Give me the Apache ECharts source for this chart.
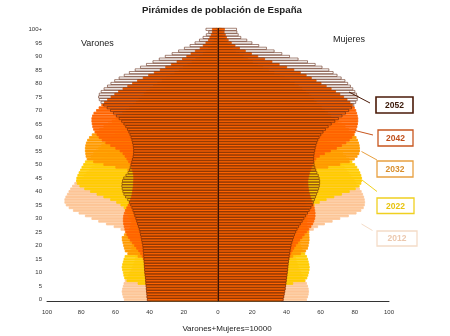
<!DOCTYPE html>
<html>
<head>
<meta charset="utf-8">
<script src="https://cdn.jsdelivr.net/npm/echarts@6/dist/echarts.min.js"></script>
<style>
html,body{margin:0;padding:0;background:#fff;}
#chart{width:450px;height:336px;}
</style>
</head>
<body>
<div id="chart"></div>
<script>
// Age categories 0..99 and 100+
const ages = [];
for (let i = 0; i < 100; i++) ages.push(String(i));
ages.push('100+');

const years = ['2012', '2022', '2032', '2042', '2052'];

// Varones (men), per 10000 inhabitants, ages 0..100+
const m2012 = [55.0,55.6,56.0,56.3,56.0,55.6,55.2,54.5,53.5,52.6,
  51.8,51.0,50.2,49.6,49.0,48.6,48.4,48.5,49.0,49.8,
  50.6,51.4,52.2,53.0,54.0,54.5,57.0,61.0,65.5,70.0,
  74.0,77.8,81.5,84.8,87.3,89.0,89.8,89.8,89.2,88.3,
  87.4,86.4,85.3,84.0,82.6,80.0,78.5,77.0,75.5,74.0,
  72.3,70.5,68.6,66.6,64.6,62.6,60.6,58.7,57.0,55.6,
  54.4,53.4,52.5,51.8,51.0,50.0,48.5,46.5,44.0,41.5,
  39.5,38.0,37.0,36.3,35.6,34.6,33.4,32.0,30.3,28.5,
  26.6,24.6,22.5,20.3,18.0,15.7,13.5,11.4,9.5,7.8,
  6.2,4.9,3.8,2.9,2.2,1.6,1.1,0.8,0.5,0.35,
  0.6];
const m2022 = [40.0,40.5,41.0,41.5,41.8,42.0,47.0,53.5,54.8,55.3,
  55.6,56.0,56.3,56.0,55.6,55.2,54.6,52.5,51.6,50.8,
  50.2,49.6,49.0,48.6,48.5,48.6,49.0,49.6,50.4,51.2,
  52.0,52.8,53.6,54.3,55.2,57.0,59.5,63.0,67.0,71.0,
  74.8,78.2,81.0,82.6,83.0,82.8,82.2,81.5,80.6,79.8,
  78.8,77.8,76.0,74.5,73.0,71.6,70.0,68.3,66.4,64.4,
  62.4,60.4,58.5,56.8,55.2,53.8,52.6,51.5,50.4,49.2,
  47.8,46.2,44.3,42.0,39.5,37.0,35.0,33.2,31.6,30.0,
  28.4,26.6,24.6,22.5,20.2,17.9,15.6,13.4,11.3,9.4,
  7.6,6.0,4.7,3.6,2.7,2.0,1.4,1.0,0.7,0.5,
  0.9];
const m2032 = [39.5,39.8,40.0,40.3,40.6,40.9,41.2,41.5,41.8,42.0,
  42.2,42.3,42.4,42.5,42.6,43.5,47.0,53.0,54.5,55.0,
  55.4,55.8,56.2,56.3,55.0,53.0,52.0,51.5,51.0,50.6,
  50.3,50.0,49.7,49.4,49.2,49.0,48.8,48.6,48.4,48.2,
  48.0,47.8,47.5,47.2,47.0,47.2,48.0,50.0,53.0,60.0,
  67.0,73.0,76.8,77.4,77.6,77.8,77.8,77.6,77.2,76.5,
  75.4,73.8,71.8,69.5,67.0,64.5,62.2,60.0,58.0,56.0,
  54.0,52.0,50.0,48.0,46.5,45.0,43.5,42.0,40.0,38.0,
  35.5,33.0,30.5,28.0,25.5,23.0,20.5,18.0,15.5,13.2,
  11.0,9.0,7.3,5.8,4.5,3.5,2.6,1.9,1.4,1.0,
  1.5];
const m2042 = [41.5,41.7,41.8,42.0,42.1,42.2,42.4,42.5,42.6,42.8,
  43.0,43.1,43.2,43.3,43.4,43.9,44.6,45.5,46.6,47.8,
  49.0,50.3,51.5,52.6,53.5,54.2,54.7,55.1,55.4,55.6,
  55.6,55.4,55.0,54.4,53.6,52.8,52.0,51.4,50.9,50.5,
  50.2,50.0,49.8,49.7,49.6,49.5,49.6,49.8,50.2,50.8,
  51.5,52.5,53.5,54.6,55.8,57.5,60.0,63.0,65.8,68.0,
  69.8,71.0,72.2,73.0,73.5,73.8,74.0,74.0,73.6,72.8,
  71.3,69.8,68.2,66.6,64.8,62.8,60.6,58.4,55.8,53.0,
  50.2,47.3,44.0,40.8,37.5,34.0,30.8,27.5,24.2,21.0,
  18.5,16.0,13.5,10.7,8.9,7.3,5.8,5.0,4.2,3.5,
  3.5];
const m2052 = [41.5,41.7,41.8,42.0,42.1,42.2,42.4,42.5,42.6,42.8,
  43.0,43.1,43.2,43.3,43.4,43.5,43.6,43.7,43.9,44.0,
  44.2,44.5,44.8,45.1,45.5,45.8,46.2,46.7,47.2,47.7,
  48.2,48.8,49.3,49.9,50.5,51.2,52.0,53.0,54.2,55.2,
  55.8,56.2,56.4,56.3,56.0,55.3,54.0,52.8,52.0,51.5,
  51.0,50.6,50.2,49.8,49.6,49.5,49.6,49.8,50.1,50.5,
  51.0,51.6,52.3,53.1,54.1,55.2,56.5,58.0,59.6,61.3,
  63.0,65.0,67.0,68.6,69.6,70.0,69.6,68.5,66.8,64.8,
  62.8,60.6,58.0,55.0,52.0,48.6,45.5,42.0,38.2,34.5,
  31.0,27.0,23.2,19.8,16.5,13.6,11.0,8.9,7.0,5.6,
  7.2];

// Mujeres (women), per 10000 inhabitants, ages 0..100+
const f2012 = [52.0,52.6,53.0,53.2,53.0,52.6,52.0,51.2,50.3,49.5,
  48.7,48.0,47.3,46.7,46.2,45.8,45.6,45.7,46.1,46.7,
  47.4,48.2,49.0,50.0,51.3,53.5,56.0,58.5,62.5,67.0,
  71.5,76.5,81.0,83.8,85.2,85.8,86.0,85.8,85.4,84.8,
  84.0,83.0,82.0,81.0,80.0,79.0,77.8,76.6,75.4,74.0,
  72.6,71.0,69.2,67.3,65.4,63.6,61.8,60.2,58.8,57.6,
  56.6,55.8,55.0,54.4,53.8,53.0,51.8,50.0,47.8,45.6,
  44.0,43.0,42.4,42.0,41.6,41.0,40.2,39.2,38.0,36.6,
  35.0,33.2,31.2,29.0,26.6,24.0,21.4,18.8,16.2,13.8,
  11.5,9.4,7.6,6.0,4.6,3.5,2.6,1.9,1.3,0.9,
  1.6];
const f2022 = [37.0,37.5,38.0,38.5,38.9,39.3,44.0,51.0,52.2,52.8,
  53.2,53.5,53.6,53.4,53.0,52.6,52.0,51.0,50.0,49.2,
  48.6,48.0,47.5,47.2,47.0,47.2,47.6,48.2,49.0,49.8,
  50.6,51.4,52.2,53.2,54.5,56.5,59.5,63.5,68.0,72.5,
  77.0,80.5,82.8,83.8,84.2,84.2,83.8,83.2,82.4,81.4,
  80.2,78.6,76.8,75.0,73.2,71.4,69.6,67.8,66.0,64.2,
  62.6,61.0,59.6,58.3,57.2,56.2,55.4,54.6,53.8,53.0,
  52.0,50.8,49.4,47.6,45.6,43.6,41.8,40.2,38.6,37.0,
  35.4,33.6,31.6,29.4,27.0,24.6,22.0,19.4,16.8,14.3,
  12.0,9.8,7.9,6.2,4.8,3.6,2.7,2.0,1.4,1.0,
  1.8];
const f2032 = [37.0,37.3,37.6,37.9,38.2,38.5,38.8,39.1,39.4,39.7,
  40.0,40.2,40.5,40.8,41.0,41.5,44.0,48.5,51.5,52.6,
  53.0,53.3,53.5,53.5,53.4,53.2,52.8,52.4,52.2,52.3,
  52.4,52.4,52.3,52.1,51.9,51.6,51.3,51.0,50.7,50.5,
  50.3,50.2,50.2,50.3,50.4,50.5,50.8,52.5,57.5,64.5,
  71.5,77.0,80.0,81.6,82.6,83.0,83.0,82.8,82.4,81.8,
  81.0,79.9,78.4,76.6,74.6,72.5,70.3,68.2,66.2,64.3,
  62.5,60.8,59.2,57.7,56.3,54.8,53.2,51.4,49.4,47.2,
  44.8,42.0,39.2,36.2,33.0,29.8,26.5,23.4,20.4,17.6,
  15.0,12.6,10.5,8.6,7.0,5.5,4.4,3.5,2.7,2.0,
  2.5];
const f2042 = [38.3,38.6,38.9,39.2,39.5,39.7,39.9,40.1,40.3,40.5,
  40.7,40.9,41.0,41.2,41.4,41.7,42.2,42.8,43.6,44.6,
  45.6,46.8,48.0,49.3,50.6,52.0,53.4,54.6,55.6,56.3,
  56.8,57.0,57.0,56.8,56.5,56.0,55.4,54.8,54.2,53.8,
  53.4,53.1,52.9,52.8,52.8,53.0,53.4,53.8,54.4,55.0,
  55.6,56.4,57.5,59.5,62.5,66.0,69.5,72.5,75.0,77.0,
  78.5,79.6,80.4,81.0,81.5,81.8,82.0,82.0,81.7,81.3,
  80.8,80.0,78.8,77.4,75.7,73.7,71.5,69.0,66.4,63.5,
  60.5,57.6,54.8,51.8,48.4,44.6,40.4,36.0,31.8,27.5,
  23.5,19.8,16.2,12.8,10.2,8.0,6.2,5.2,4.5,3.8,
  4.0];
const f2052 = [38.3,38.6,38.9,39.2,39.5,39.7,39.9,40.1,40.3,40.5,
  40.7,40.9,41.0,41.2,41.4,41.6,41.8,42.0,42.3,42.6,
  42.9,43.3,43.8,44.3,44.9,45.6,46.4,47.3,48.3,49.4,
  50.4,51.4,52.5,53.5,54.5,55.3,56.0,56.6,57.2,57.8,
  58.5,59.0,59.4,59.6,59.6,59.3,58.8,58.0,57.3,56.8,
  56.4,56.2,56.1,56.2,56.4,56.7,57.0,57.4,57.9,58.5,
  59.3,60.3,61.6,63.0,64.6,66.4,68.5,70.6,72.7,74.7,
  76.6,78.2,79.6,80.7,81.6,82.0,81.2,80.2,79.0,77.6,
  76.0,74.4,72.2,69.8,67.5,65.0,61.0,57.0,52.5,47.0,
  42.0,37.5,33.0,28.5,24.0,20.0,17.0,13.5,12.0,11.2,
  11.0];

const menData = {'2012': m2012, '2022': m2022, '2032': m2032, '2042': m2042, '2052': m2052};
const womenData = {'2012': f2012, '2022': f2022, '2032': f2032, '2042': f2042, '2052': f2052};

const fillColors = {'2012': '#FDC698', '2022': '#FFCC00', '2032': '#FF9A00', '2042': '#FF6400'};
const outlineColor = '#5a1e08';
const FONT = 'Liberation Sans, Arial, Helvetica, sans-serif';

const series = [];
years.forEach(function (y) {
  const isOutline = (y === '2052');
  [['V', menData[y], -1], ['M', womenData[y], 1]].forEach(function (p) {
    series.push({
      name: y + p[0],
      type: 'bar',
      data: p[1].map(function (v) { return p[2] * v; }),
      barGap: '-100%',
      barCategoryGap: '0%',
      silent: true,
      itemStyle: isOutline
        ? {color: 'rgba(0,0,0,0)', borderColor: outlineColor, borderWidth: 0.55}
        : {color: fillColors[y], borderColor: fillColors[y], borderWidth: 0.8}
    });
  });
});

// centre line
series.push({
  type: 'line', data: [], silent: true,
  markLine: {silent: true, symbol: ['none', 'none'], label: {show: false},
    lineStyle: {color: '#3a1406', width: 1, type: 'solid'}, data: [{xAxis: 0}]}
});

// legend call-outs
const boxes = [
  {t: '2052', x: 376, y: 97, w: 37, h: 16, stroke: '#4a1a08', text: '#3a1808', lw: 1.6, l: [349, 92, 370, 103]},
  {t: '2042', x: 378, y: 130, w: 35, h: 16, stroke: '#c8561e', text: '#c0501c', lw: 1.3, l: [355, 130.5, 373, 135]},
  {t: '2032', x: 377, y: 161, w: 36, h: 16, stroke: '#e8a040', text: '#d88e2c', lw: 1.3, l: [361.5, 151.5, 377, 160]},
  {t: '2022', x: 377, y: 198, w: 37, h: 15.5, stroke: '#f0d020', text: '#e8c410', lw: 1.3, l: [362, 180, 377, 191.5]},
  {t: '2012', x: 377, y: 231, w: 40, h: 15, stroke: '#f4dcc8', text: '#ecc8ae', lw: 1.3, l: [361.5, 224, 372.5, 230.5]}
];
const graphics = [
  {type: 'text', x: 222, y: 10, style: {text: 'Pirámides de población de España', align: 'center', verticalAlign: 'middle', fontSize: 9.7, fontWeight: 'bold', fontFamily: FONT, fill: '#222'}},
  {type: 'text', x: 81, y: 44, style: {text: 'Varones', align: 'left', verticalAlign: 'middle', fontSize: 9, fontFamily: FONT, fill: '#222'}},
  {type: 'text', x: 333, y: 40, style: {text: 'Mujeres', align: 'left', verticalAlign: 'middle', fontSize: 9, fontFamily: FONT, fill: '#222'}},
  {type: 'text', x: 227, y: 329, style: {text: 'Varones+Mujeres=10000', align: 'center', verticalAlign: 'middle', fontSize: 8, fontFamily: FONT, fill: '#222'}}
];
boxes.forEach(function (b) {
  graphics.push({type: 'line', shape: {x1: b.l[0], y1: b.l[1], x2: b.l[2], y2: b.l[3]}, style: {stroke: b.stroke, lineWidth: 1}, z: 100});
  graphics.push({type: 'rect', shape: {x: b.x, y: b.y, width: b.w, height: b.h}, style: {fill: '#fff', stroke: b.stroke, lineWidth: b.lw}, z: 100});
  graphics.push({type: 'text', x: b.x + b.w / 2, y: b.y + b.h / 2 + 0.5, style: {text: b.t, align: 'center', verticalAlign: 'middle', fontSize: 8.5, fontWeight: 'bold', fontFamily: FONT, fill: b.text}, z: 101});
});

const chart = echarts.init(document.getElementById('chart'), null, {renderer: 'canvas'});
chart.setOption({
  animation: false,
  backgroundColor: '#fff',
  grid: {left: 47, right: 61, top: 28, bottom: 35, containLabel: false},
  xAxis: {
    type: 'value', min: -100, max: 100, interval: 20,
    axisLine: {show: true, lineStyle: {color: '#333', width: 1}},
    axisTick: {show: false},
    splitLine: {show: false},
    axisLabel: {formatter: function (v) { return String(Math.abs(v)); }, fontSize: 6, color: '#333', margin: 8, fontFamily: FONT}
  },
  yAxis: {
    type: 'category', data: ages,
    axisLine: {show: false}, axisTick: {show: false}, splitLine: {show: false},
    axisLabel: {interval: 4, fontSize: 6, color: '#333', margin: 5, fontFamily: FONT}
  },
  series: series,
  graphic: graphics
});
</script>
</body>
</html>
